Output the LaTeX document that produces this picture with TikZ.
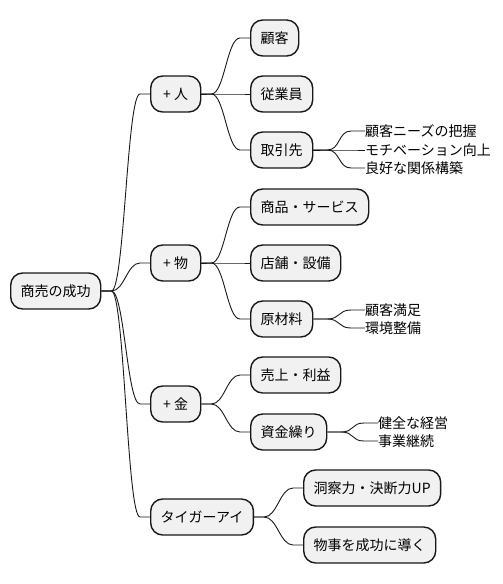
\documentclass[tikz,border=0pt]{standalone}
\usepackage{fontspec}
\setmainfont{Noto Sans CJK JP}
\usetikzlibrary{calc}
\definecolor{boxfill}{HTML}{F1F1F1}
\definecolor{ink}{HTML}{181818}
\tikzset{
  box/.style={draw=ink, fill=boxfill, line width=1.4pt, rounded corners=12pt,
    minimum height=36pt, inner xsep=10pt, inner ysep=0pt, anchor=west,
    font=\fontsize{14}{16}\selectfont},
  leaf/.style={inner sep=0pt, anchor=west, font=\fontsize{14}{16}\selectfont},
  edge/.style={draw=ink, line width=0.9pt}
}
\newcommand\link[3]{\draw[edge] (#1.east) -- ++(#3,0) .. controls +(13,0) and ($(#2.west)+(-#3-13,0)$) .. ($(#2.west)+(-#3,0)$) -- (#2.west);}
\begin{document}
\begin{tikzpicture}[x=1pt,y=-1pt]
\useasboundingbox (0,0) rectangle (503,584);
\node[box] (root) at (10,291) {商売の成功};
\node[box, minimum width=50pt] (hito) at (150,94) {+ 人};
\node[box, minimum width=50pt] (mono) at (150,263) {+ 物};
\node[box, minimum width=50pt] (kane) at (150,404) {+ 金};
\node[box] (tiger) at (150,517) {タイガーアイ};
\node[box] (kokyaku) at (250,38) {顧客};
\node[box] (jugyo) at (250,94) {従業員};
\node[box] (torihiki) at (250,150) {取引先};
\node[box] (shohin) at (250,207) {商品・サービス};
\node[box] (tenpo) at (250,263) {店舗・設備};
\node[box] (genzai) at (250,319) {原材料};
\node[box] (uriage) at (250,375) {売上・利益};
\node[box] (shikin) at (250,432) {資金繰り};
\node[box] (dosatsu) at (303,488) {洞察力・決断力UP};
\node[box] (monogoto) at (303,545) {物事を成功に導く};
\node[leaf] (l1) at (365,131) {顧客ニーズの把握};
\node[leaf] (l2) at (365,150) {モチベーション向上};
\node[leaf] (l3) at (365,168) {良好な関係構築};
\node[leaf] (l4) at (365,310) {顧客満足};
\node[leaf] (l5) at (365,328) {環境整備};
\node[leaf] (l6) at (378,423) {健全な経営};
\node[leaf] (l7) at (378,441) {事業継続};
\link{root}{hito}{10}
\link{root}{mono}{10}
\link{root}{kane}{10}
\link{root}{tiger}{10}
\link{hito}{kokyaku}{10}
\link{hito}{jugyo}{10}
\link{hito}{torihiki}{10}
\link{mono}{shohin}{10}
\link{mono}{tenpo}{10}
\link{mono}{genzai}{10}
\link{kane}{uriage}{10}
\link{kane}{shikin}{10}
\link{tiger}{dosatsu}{10}
\link{tiger}{monogoto}{10}
\link{torihiki}{l1}{14}
\link{torihiki}{l2}{14}
\link{torihiki}{l3}{14}
\link{genzai}{l4}{14}
\link{genzai}{l5}{14}
\link{shikin}{l6}{14}
\link{shikin}{l7}{14}
\end{tikzpicture}
\end{document}
